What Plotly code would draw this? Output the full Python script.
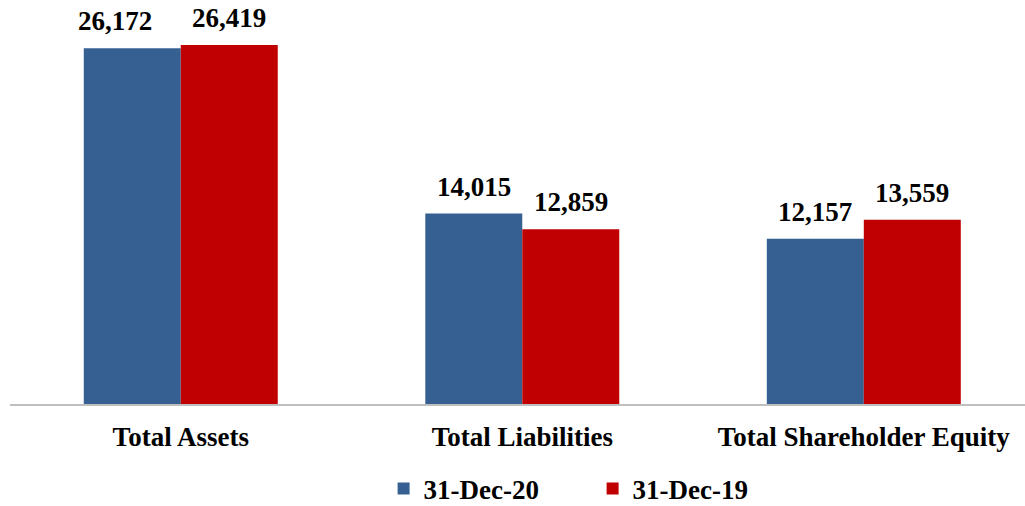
import plotly.graph_objects as go

categories = ["Total Assets", "Total Liabilities", "Total Shareholder Equity"]
series_names = ["31-Dec-20", "31-Dec-19"]
values_dec20 = [26172, 14015, 12157]
values_dec19 = [26419, 12859, 13559]

BLUE = "#376092"
RED = "#c00000"
FONT = "Liberation Serif"
FS = 27
BARGAP = 0.432
H = 506
PLOT_BOTTOM = 404
LEGEND_CENTER = 489

fig = go.Figure()
fig.add_trace(go.Bar(x=list(range(len(categories))), y=values_dec20, name=series_names[0],
                     marker=dict(color=BLUE, line=dict(width=0))))
fig.add_trace(go.Bar(x=list(range(len(categories))), y=values_dec19, name=series_names[1],
                     marker=dict(color=RED, line=dict(width=0))))

bw = (1 - BARGAP) / 2
annotations = []
for i, (a, b) in enumerate(zip(values_dec20, values_dec19)):
    for val, off, xs in ((a, -bw / 2, -17 if i == 0 else 0), (b, bw / 2, 0)):
        annotations.append(dict(
            x=i + off, y=val, xref="x", yref="y", text=f"<b>{val:,}</b>",
            showarrow=False, yanchor="bottom", yshift=10, xshift=xs,
            font=dict(family=FONT, size=FS, color="black")))

fig.update_layout(
    width=1025, height=H,
    margin=dict(l=10, r=0, t=0, b=H - PLOT_BOTTOM, autoexpand=False),
    paper_bgcolor="white", plot_bgcolor="white",
    barmode="group", bargap=BARGAP, bargroupgap=0,
    showlegend=True,
    legend=dict(orientation="h", x=0.574, xanchor="center",
                y=-(LEGEND_CENTER - PLOT_BOTTOM) / PLOT_BOTTOM, yanchor="middle",
                font=dict(family=FONT, size=FS, color="black"), itemwidth=30,
                entrywidth=164, entrywidthmode="pixels",
                traceorder="normal"),
    annotations=annotations,
    xaxis=dict(range=[-0.5, 2.472], tickmode="array", tickvals=list(range(len(categories))),
               ticktext=[f"<b>{c}</b>" for c in categories],
               tickfont=dict(family=FONT, size=FS, color="black"),
               showline=True, linecolor="#bfbfbf", linewidth=2,
               ticks="outside", ticklen=8, tickcolor="rgba(0,0,0,0)",
               showgrid=False, zeroline=False, fixedrange=True, automargin=False),
    yaxis=dict(range=[0, 29730], visible=False,
               showgrid=False, zeroline=False, fixedrange=True),
)
fig.update_traces(hoverinfo="skip")
fig.for_each_trace(lambda t: t.update(name=f"<b>{t.name}</b>"))

fig.write_html("out.html")
